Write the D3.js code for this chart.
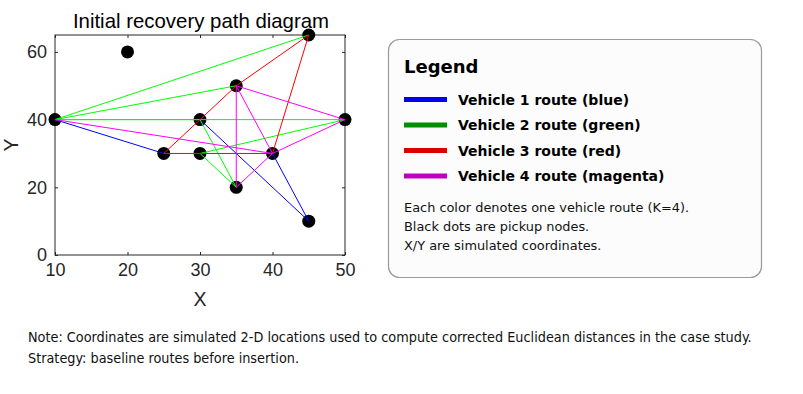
<!DOCTYPE html>
<html>
<head>
<meta charset="utf-8">
<script src="https://cdn.jsdelivr.net/npm/d3@7"></script>
<style>
  body { margin: 0; background: #fff; }
  svg { display: block; }
</style>
</head>
<body>
<div id="chart"></div>
<script>
// pickup nodes (x, y); node 0 is the depot
const nodeX = [10, 20, 25, 30, 30, 35, 35, 40, 45, 45, 50];
const nodeY = [40, 60, 30, 40, 30, 50, 20, 30, 65, 10, 40];

// each route as visible legs, each leg a list of node indices
const route1 = [[0, 2], [3, 9, 7]];
const route2 = [[8, 0, 5], [0, 3, 6, 4, 10, 0]];
const route3 = [[2, 5, 8, 7, 2]];
const route4 = [[0, 7, 10, 5, 6, 7, 5]];

const routeNames = ["Vehicle 1 route (blue)", "Vehicle 2 route (green)", "Vehicle 3 route (red)", "Vehicle 4 route (magenta)"];
const lineColors = ["#0000ff", "#00ff00", "#ff0000", "#ff00ff"];
const legendColors = ["#0000ee", "#008f00", "#dd0000", "#c000c0"];

const xTicks = [10, 20, 30, 40, 50];
const yTicks = [0, 20, 40, 60];

const legendNotes = ["Each color denotes one vehicle route (K=4).", "Black dots are pickup nodes.", "X/Y are simulated coordinates."];
const footNotes = ["Note: Coordinates are simulated 2-D locations used to compute corrected Euclidean distances in the case study.", "Strategy: baseline routes before insertion."];

const width = 803, height = 394;
const svg = d3.select("#chart").append("svg").attr("width", width).attr("height", height);

const x = d3.scaleLinear().domain([10, 50]).range([55, 345]);
const y = d3.scaleLinear().domain([0, 65]).range([255, 35]);

const axisFont = "'Liberation Sans', Arial, sans-serif";
const textColor = "#262626";

// frame
svg.append("rect").attr("x", 55).attr("y", 35).attr("width", 290).attr("height", 220)
  .attr("fill", "none").attr("stroke", textColor).attr("stroke-width", 1);

// axes with inward ticks
const axBottom = svg.append("g").attr("transform", `translate(0,${y(0)})`)
  .call(d3.axisBottom(x).tickValues(xTicks).tickSize(-3).tickPadding(8));
const axTop = svg.append("g").attr("transform", `translate(0,${y(65)})`)
  .call(d3.axisTop(x).tickValues(xTicks).tickSize(-3).tickFormat(""));
const axLeft = svg.append("g").attr("transform", `translate(${x(10)},0)`)
  .call(d3.axisLeft(y).tickValues(yTicks).tickSize(-3).tickPadding(8));
const axRight = svg.append("g").attr("transform", `translate(${x(50)},0)`)
  .call(d3.axisRight(y).tickValues(yTicks).tickSize(-3).tickFormat(""));
[axBottom, axTop, axLeft, axRight].forEach(g => {
  g.select(".domain").remove();
  g.selectAll("line").attr("stroke", textColor);
  g.selectAll("text").attr("font-family", axisFont).attr("font-size", 18).attr("fill", textColor);
});

// title and axis labels
svg.append("text").attr("x", 201).attr("y", 28).attr("text-anchor", "middle")
  .attr("font-family", axisFont).attr("font-size", 20.4).attr("fill", "#000")
  .text("Initial recovery path diagram");
svg.append("text").attr("x", 200).attr("y", 306).attr("text-anchor", "middle")
  .attr("font-family", axisFont).attr("font-size", 19.5).attr("fill", textColor).text("X");
svg.append("text").attr("transform", "translate(18,145) rotate(-90)").attr("text-anchor", "middle")
  .attr("font-family", axisFont).attr("font-size", 19.5).attr("fill", textColor).text("Y");

// nodes
svg.append("g").selectAll("circle").data(nodeX).join("circle")
  .attr("cx", d => x(d)).attr("cy", (d, i) => y(nodeY[i])).attr("r", 6.5).attr("fill", "#000");

// routes
const line = d3.line().x(i => x(nodeX[i])).y(i => y(nodeY[i]));
const routes = [route1, route2, route3, route4];
routes.forEach((legs, r) => {
  svg.append("g").selectAll("path").data(legs).join("path")
    .attr("d", d => line(d)).attr("fill", "none")
    .attr("stroke", lineColors[r]).attr("stroke-width", 1);
});

// legend box
const lg = svg.append("g");
lg.append("rect").attr("x", 388.5).attr("y", 39.5).attr("width", 373).attr("height", 238).attr("rx", 11)
  .attr("fill", "#fcfcfc").attr("stroke", "#9a9a9a").attr("stroke-width", 1.2);
lg.append("text").attr("x", 404).attr("y", 73).attr("font-family", "'DejaVu Sans', sans-serif")
  .attr("font-weight", "bold").attr("font-size", 18).attr("fill", "#000").text("Legend");
routeNames.forEach((name, i) => {
  const cy = 99.5 + i * 25.5;
  lg.append("line").attr("x1", 404).attr("x2", 447).attr("y1", cy).attr("y2", cy)
    .attr("stroke", legendColors[i]).attr("stroke-width", 5);
  lg.append("text").attr("x", 458).attr("y", cy + 5).attr("font-family", "'DejaVu Sans', sans-serif")
    .attr("font-weight", "bold").attr("font-size", 14).attr("fill", "#000").text(name);
});
legendNotes.forEach((t, i) => {
  lg.append("text").attr("x", 404).attr("y", 212 + i * 19).attr("font-family", "'DejaVu Sans', sans-serif")
    .attr("font-size", 12.9).attr("fill", "#111").text(t);
});

// footnotes
footNotes.forEach((t, i) => {
  svg.append("text").attr("x", 28).attr("y", 342 + i * 21).attr("font-family", "'DejaVu Sans Condensed', 'DejaVu Sans', sans-serif")
    .attr("font-size", 14.3).attr("fill", "#111").text(t);
});
</script>
</body>
</html>
